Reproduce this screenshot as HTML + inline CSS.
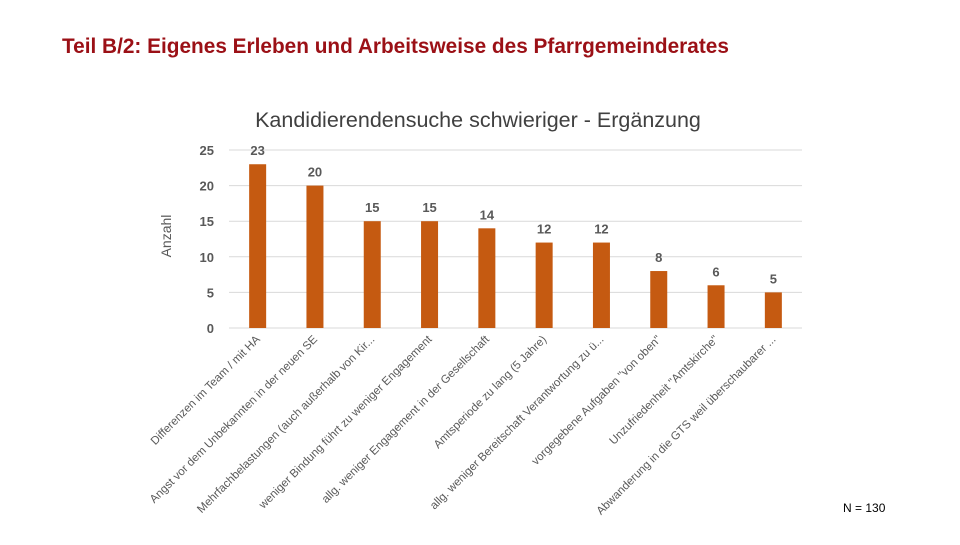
<!DOCTYPE html>
<html><head><meta charset="utf-8"><style>
body{margin:0;width:960px;height:540px;background:#fff;overflow:hidden;font-family:"Liberation Sans",sans-serif}
</style></head><body>
<svg width="960" height="540" xmlns="http://www.w3.org/2000/svg">
<text x="62" y="53" font-size="20.8" font-weight="bold" fill="#9b1016" font-family="Liberation Sans, sans-serif">Teil B/2: Eigenes Erleben und Arbeitsweise des Pfarrgemeinderates</text>
<text x="478" y="127" font-size="21.5" text-anchor="middle" fill="#404040">Kandidierendensuche schwieriger - Ergänzung</text>
<text transform="translate(171,236) rotate(-90)" font-size="14" text-anchor="middle" fill="#595959">Anzahl</text>
<text x="843" y="512" font-size="12" fill="#000">N = 130</text>
<g id="grid"></g><g id="bars"></g><g id="labels"></g>
</svg>
<script>
const categories=["Differenzen im Team / mit HA","Angst vor dem Unbekannten in der neuen SE","Mehrfachbelastungen (auch außerhalb von Kir...","weniger Bindung führt zu weniger Engagement","allg. weniger Engagement in der Gesellschaft","Amtsperiode zu lang (5 Jahre)","allg. weniger Bereitschaft Verantwortung zu ü...","vorgegebene Aufgaben \"von oben\"","Unzufriedenheit \"Amtskirche\"","Abwanderung in die GTS weil überschaubarer ..."];
const values=[23,20,15,15,14,12,12,8,6,5];
const ticks=[0,5,10,15,20,25];
const NS="http://www.w3.org/2000/svg";
const y0=328,yTop=150,yMax=25,x0=229,step=57.3;
const y=v=>y0-(y0-yTop)*v/yMax;
const xc=i=>x0+step*(i+0.5);
function mk(t,a,p){const e=document.createElementNS(NS,t);for(const k in a)e.setAttribute(k,a[k]);p.appendChild(e);return e;}
const g=document.getElementById('grid'),b=document.getElementById('bars'),l=document.getElementById('labels');
ticks.forEach(t=>{
 const ln=mk('line',{x1:x0,x2:x0+step*10,y1:y(t),y2:y(t),stroke:'#d9d9d9','stroke-width':1},g);
 
 
 const tx=mk('text',{x:214,y:y(t)+5,'font-size':13,'font-weight':'bold','text-anchor':'end',fill:'#595959'},g);
 tx.textContent=t;
 
 
});
values.forEach((v,i)=>{
 const r=mk('rect',{x:xc(i)-8.5,y:y(v),width:17,height:y0-y(v),fill:'#c55a11'},b);
 
 
 const t=mk('text',{x:xc(i),y:y(v)-9,'font-size':13,'font-weight':'bold','text-anchor':'middle',fill:'#595959'},b);
 t.textContent=v;
 
 
 const c=mk('text',{transform:`translate(${xc(i)+3},${340}) rotate(-45)`,'font-size':11.5,'text-anchor':'end',fill:'#595959'},l);
 c.textContent=categories[i];
 
 
});
</script>
</body></html>
